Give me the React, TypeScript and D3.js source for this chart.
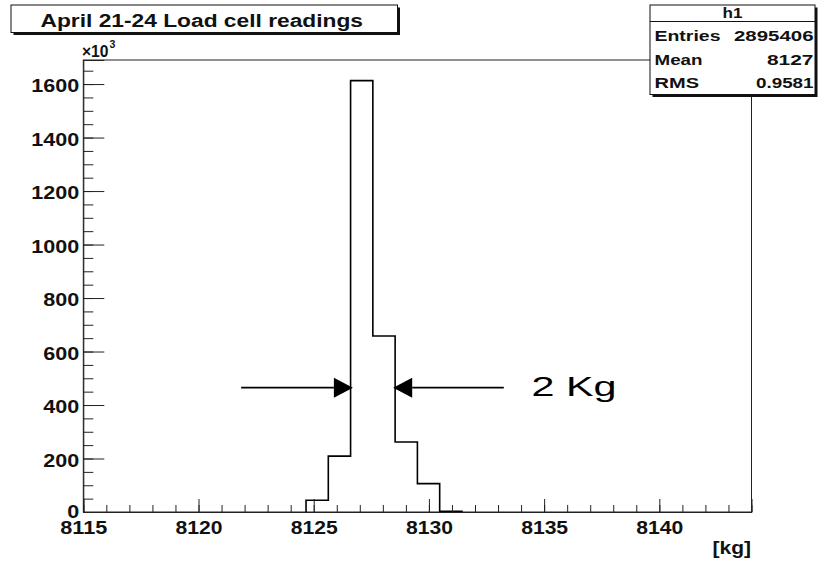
import React, { useEffect, useRef } from "react";
import * as d3 from "d3";

// histogram h1, 30 bins between 8115 and 8144 kg, counts in units of 10^3
const title = "April 21-24 Load cell readings";
const binLow = 8115;
const binHigh = 8144;
const binCounts = [
  0, 0, 0, 0, 0, 0, 0, 0, 0, 0,
  44, 209, 1613, 658, 262, 106, 3,
  0, 0, 0, 0, 0, 0, 0, 0, 0, 0, 0, 0, 0,
];
const yMax = 1690;
const yMajorTicks = [0, 200, 400, 600, 800, 1000, 1200, 1400, 1600];
const xMajorTicks = [8115, 8120, 8125, 8130, 8135, 8140];
const statsName = "h1";
const statsLabels = ["Entries", "Mean", "RMS"];
const statsValues = ["2895406", "8127", "0.9581"];
const xTitle = "[kg]";

// the "2 Kg" annotation, in data units
const arrowY = 465;
const leftArrow = [8121.85, 8126.7];
const rightArrow = [8133.25, 8128.45];
const annotText = "2 Kg";
const annotX = 8134.45;

const W = 818;
const H = 563;
const FONT = "'Liberation Sans', Arial, Helvetica, sans-serif";

function App() {
  const svgRef = useRef(null);

  useEffect(() => {
    document.body.style.margin = "0";
    const svg = d3.select(svgRef.current);
    svg.selectAll("*").remove();

    const left = 83.3;
    const right = 751.5;
    const top = 60;
    const bottom = 512;

    const x = d3.scaleLinear().domain([binLow, binHigh]).range([left, right]);
    const y = d3.scaleLinear().domain([0, yMax]).range([bottom, top]);

    const binW = (binHigh - binLow) / binCounts.length;

    // frame
    svg.append("rect")
      .attr("x", left).attr("y", top)
      .attr("width", right - left).attr("height", bottom - top)
      .attr("fill", "white").attr("stroke", "#222").attr("stroke-width", 1);

    // histogram outline (only over the filled range)
    const first = binCounts.findIndex((c) => c > 0);
    let last = binCounts.length - 1;
    while (last > 0 && binCounts[last] === 0) last--;
    const pts: [number, number][] = [[binLow + first * binW, 0]];
    for (let i = first; i <= last; i++) {
      pts.push([binLow + i * binW, binCounts[i]]);
      pts.push([binLow + (i + 1) * binW, binCounts[i]]);
    }
    pts.push([binLow + (last + 1) * binW, 0]);
    const line = d3.line<[number, number]>().x((d) => x(d[0])).y((d) => y(d[1]));
    svg.append("path")
      .attr("d", line(pts))
      .attr("fill", "none").attr("stroke", "#000").attr("stroke-width", 1.6);

    // y axis
    const yMinor = svg.append("g").attr("transform", `translate(${left},0)`)
      .call(d3.axisLeft(y).tickValues(d3.range(0, yMax, 50)).tickSize(-10).tickFormat(() => ""));
    yMinor.select(".domain").remove();
    const yAx = svg.append("g").attr("transform", `translate(${left},0)`)
      .call(d3.axisLeft(y).tickValues(yMajorTicks).tickSize(-21).tickPadding(4).tickFormat(d3.format("d")));
    yAx.select(".domain").attr("stroke", "#222");
    yAx.selectAll("text")
      .attr("dy", (d: any) => (d === 0 ? "0.3em" : "0.42em"))
      .attr("font-family", FONT).attr("font-weight", "bold").attr("font-size", 18).attr("fill", "#111")
      .attr("textLength", (d: any) => String(d).length * 12)
      .attr("lengthAdjust", "spacingAndGlyphs");

    // x axis
    const xMinor = svg.append("g").attr("transform", `translate(0,${bottom})`)
      .call(d3.axisBottom(x).tickValues(d3.range(binLow, binHigh + 1, 1)).tickSize(-7).tickFormat(() => ""));
    xMinor.select(".domain").remove();
    const xAx = svg.append("g").attr("transform", `translate(0,${bottom})`)
      .call(d3.axisBottom(x).tickValues(xMajorTicks).tickSize(-13).tickPadding(9).tickFormat(d3.format("d")));
    xAx.select(".domain").attr("stroke", "#222");
    xAx.selectAll("text")
      .attr("font-family", FONT).attr("font-weight", "bold").attr("font-size", 18).attr("fill", "#111")
      .attr("textLength", 47).attr("lengthAdjust", "spacingAndGlyphs");
    svg.selectAll("g.tick line").attr("stroke", "#222");

    // x10^3 exponent
    svg.append("text").attr("x", 82).attr("y", 56.5)
      .attr("font-family", FONT).attr("font-weight", "bold").attr("font-size", 16.5).attr("fill", "#111")
      .attr("textLength", 26.5).attr("lengthAdjust", "spacingAndGlyphs").text("\u00d710");
    svg.append("text").attr("x", 109.5).attr("y", 48)
      .attr("font-family", FONT).attr("font-weight", "bold").attr("font-size", 10.5).attr("fill", "#111")
      .text("3");

    // x axis title
    svg.append("text").attr("x", right - 0.5).attr("y", 554)
      .attr("text-anchor", "end")
      .attr("font-family", FONT).attr("font-weight", "bold").attr("font-size", 18).attr("fill", "#111")
      .attr("textLength", 38.5).attr("lengthAdjust", "spacingAndGlyphs").text(xTitle);

    // title box with shadow
    const tb = { x0: 11, y0: 5, x1: 397.5, y1: 32.5 };
    svg.append("rect").attr("x", tb.x0 + 2.5).attr("y", tb.y0 + 2.5)
      .attr("width", tb.x1 - tb.x0).attr("height", tb.y1 - tb.y0).attr("fill", "#111");
    svg.append("rect").attr("x", tb.x0).attr("y", tb.y0)
      .attr("width", tb.x1 - tb.x0).attr("height", tb.y1 - tb.y0)
      .attr("fill", "white").attr("stroke", "#111").attr("stroke-width", 1);
    svg.append("text").attr("x", 40.5).attr("y", 26.5)
      .attr("font-family", FONT).attr("font-weight", "bold").attr("font-size", 18).attr("fill", "#111")
      .attr("textLength", 322.5).attr("lengthAdjust", "spacingAndGlyphs").text(title);

    // stats box
    const sb = { x0: 650, y0: 5, x1: 815, y1: 94.5 };
    svg.append("rect").attr("x", sb.x0 + 2.5).attr("y", sb.y0 + 2.5)
      .attr("width", sb.x1 - sb.x0).attr("height", sb.y1 - sb.y0).attr("fill", "#111");
    svg.append("rect").attr("x", sb.x0).attr("y", sb.y0)
      .attr("width", sb.x1 - sb.x0).attr("height", sb.y1 - sb.y0)
      .attr("fill", "white").attr("stroke", "#111").attr("stroke-width", 1);
    svg.append("line").attr("x1", sb.x0).attr("x2", sb.x1).attr("y1", 21.5).attr("y2", 21.5)
      .attr("stroke", "#111").attr("stroke-width", 1);
    const statFont = (sel: any) => sel.attr("font-family", FONT).attr("font-weight", "bold")
      .attr("font-size", 15).attr("fill", "#111").attr("lengthAdjust", "spacingAndGlyphs");
    svg.append("text").attr("x", (sb.x0 + sb.x1) / 2).attr("y", 17.5)
      .attr("text-anchor", "middle").call(statFont).attr("textLength", 20).text(statsName);
    const rowY = [41, 64.5, 88];
    const labelW = [66, 48, 44.5];
    const valueW = [79.5, 46.5, 57.5];
    svg.selectAll("text.slabel").data(statsLabels).join("text")
      .attr("class", "slabel").attr("x", 654.5).attr("y", (d, i) => rowY[i])
      .call(statFont).attr("textLength", (d, i) => labelW[i]).text((d) => d);
    svg.selectAll("text.svalue").data(statsValues).join("text")
      .attr("class", "svalue").attr("x", 813.5).attr("y", (d, i) => rowY[i])
      .attr("text-anchor", "end")
      .call(statFont).attr("textLength", (d, i) => valueW[i]).text((d) => d);

    // 2 Kg arrows
    const ay = y(arrowY);
    const headLen = 19;
    const headHalf = 10;
    [leftArrow, rightArrow].forEach(([from, to]) => {
      const x0 = x(from);
      const x1 = x(to);
      const dir = Math.sign(x1 - x0);
      svg.append("line").attr("x1", x0).attr("x2", x1 - dir * headLen).attr("y1", ay).attr("y2", ay)
        .attr("stroke", "#000").attr("stroke-width", 1.6);
      svg.append("path")
        .attr("d", `M${x1},${ay}L${x1 - dir * headLen},${ay - headHalf}L${x1 - dir * headLen},${ay + headHalf}Z`)
        .attr("fill", "#000");
    });
    svg.append("text").attr("x", x(annotX)).attr("y", ay + 8.5)
      .attr("font-family", "Helvetica, Arial, 'Liberation Sans', sans-serif").attr("font-size", 27)
      .attr("fill", "#000").attr("textLength", 85).attr("lengthAdjust", "spacingAndGlyphs")
      .text(annotText);
  }, []);

  return (
    <div>
      <svg ref={svgRef} width={W} height={H} style={{ display: "block", background: "white" }}></svg>
    </div>
  );
}

export default App;
